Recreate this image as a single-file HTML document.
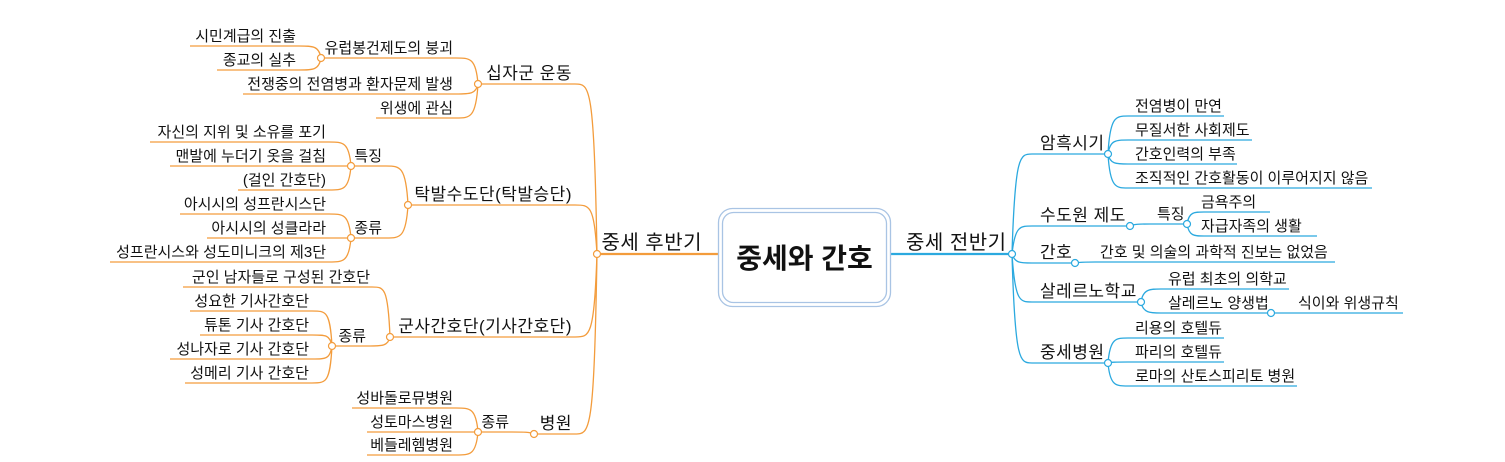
<!DOCTYPE html>
<html><head><meta charset="utf-8"><style>
html,body{margin:0;padding:0;background:#fff;}
svg{display:block;font-family:"Liberation Sans","Noto Sans CJK KR","NanumGothic",sans-serif;}
.l path{fill:none;stroke:#F39C3C;stroke-width:1.3;}
.r path{fill:none;stroke:#2BA9DF;stroke-width:1.3;}
.l circle{fill:#fff;stroke:#F39C3C;stroke-width:1.2;}
.r circle{fill:#fff;stroke:#2BA9DF;stroke-width:1.2;}
text{fill:#111;}
.lf{font-size:15px;}
.br{font-size:17px;letter-spacing:0.5px;}
.mn{font-size:20px;letter-spacing:0.5px;}
</style></head><body>
<svg width="1505" height="462" viewBox="0 0 1505 462" xmlns="http://www.w3.org/2000/svg">
<g class="l">
<path d="M720 254 H597" style="stroke-width:2.2"/>
<path d="M597 254 C594 84 590 84 575 84 H478"/>
<path d="M597 254 C594 205 590 205 575 205 H408"/>
<path d="M597 254 C594 337 590 337 575 337 H390"/>
<path d="M597 254 C594 434 590 434 575 434 H534"/>
<path d="M478 84 C476 58 470 58 456 58 H321"/>
<path d="M478 84 C476 94 470 94 456 94 H243"/>
<path d="M478 84 C476 118 470 118 456 118 H376"/>
<path d="M321 58 C319 46 313 46 299 46 H190"/>
<path d="M321 58 C319 70 313 70 299 70 H217"/>
<path d="M408 205 C406 166 400 166 386 166 H351"/>
<path d="M408 205 C406 238 400 238 386 238 H351"/>
<path d="M351 166 C349 142 343 142 329 142 H150"/>
<path d="M351 166 H170"/>
<path d="M351 166 C349 190 343 190 329 190 H238"/>
<path d="M351 238 C349 214 343 214 329 214 H180"/>
<path d="M351 238 H207"/>
<path d="M351 238 C349 262 343 262 329 262 H110"/>
<path d="M390 337 C388 287 384 287 372 287 H183"/>
<path d="M390 337 C388 346 382 346 370 346 H332"/>
<path d="M332 346 C330 311 326 311 312 311 H190"/>
<path d="M332 346 C330 335 326 335 312 335 H200"/>
<path d="M332 346 C330 359 326 359 312 359 H170"/>
<path d="M332 346 C330 383 326 383 312 383 H185"/>
<path d="M534 434 C530 432 524 432 512 432 H478"/>
<path d="M478 432 C476 408 470 408 456 408 H352"/>
<path d="M478 432 H367"/>
<path d="M478 432 C476 455 470 455 456 455 H367"/>
<circle cx="597" cy="254" r="3.5"/>
<circle cx="478" cy="84" r="3.5"/>
<circle cx="321" cy="58" r="3.5"/>
<circle cx="408" cy="205" r="3.5"/>
<circle cx="351" cy="166" r="3.5"/>
<circle cx="351" cy="238" r="3.5"/>
<circle cx="390" cy="337" r="3.5"/>
<circle cx="332" cy="346" r="3.5"/>
<circle cx="534" cy="434" r="3.5"/>
<circle cx="478" cy="432" r="3.5"/>
</g>
<g text-anchor="end">
<text class="mn" x="702" y="249">중세 후반기</text>
<text class="br" x="572" y="79">십자군 운동</text>
<text class="br" x="572" y="200">탁발수도단(탁발승단)</text>
<text class="br" x="572" y="332">군사간호단(기사간호단)</text>
<text class="br" x="572" y="429">병원</text>
<text class="lf" x="453" y="53">유럽봉건제도의 붕괴</text>
<text class="lf" x="453" y="89">전쟁중의 전염병과 환자문제 발생</text>
<text class="lf" x="453" y="113">위생에 관심</text>
<text class="lf" x="296" y="41">시민계급의 진출</text>
<text class="lf" x="296" y="65">종교의 실추</text>
<text class="lf" x="382" y="161">특징</text>
<text class="lf" x="382" y="233">종류</text>
<text class="lf" x="326" y="137">자신의 지위 및 소유를 포기</text>
<text class="lf" x="326" y="161">맨발에 누더기 옷을 걸침</text>
<text class="lf" x="326" y="185">(걸인 간호단)</text>
<text class="lf" x="326" y="209">아시시의 성프란시스단</text>
<text class="lf" x="326" y="233">아시시의 성클라라</text>
<text class="lf" x="326" y="257">성프란시스와 성도미니크의 제3단</text>
<text class="lf" x="370" y="282">군인 남자들로 구성된 간호단</text>
<text class="lf" x="366" y="341">종류</text>
<text class="lf" x="309" y="306">성요한 기사간호단</text>
<text class="lf" x="309" y="330">튜톤 기사 간호단</text>
<text class="lf" x="309" y="354">성나자로 기사 간호단</text>
<text class="lf" x="309" y="378">성메리 기사 간호단</text>
<text class="lf" x="509" y="427">종류</text>
<text class="lf" x="453" y="403">성바돌로뮤병원</text>
<text class="lf" x="453" y="427">성토마스병원</text>
<text class="lf" x="453" y="450">베들레헴병원</text>
</g>
<g class="r">
<path d="M888 254 H1012" style="stroke-width:2.2"/>
<path d="M1012 254 C1015 154 1020 154 1032 154 H1108"/>
<path d="M1012 254 C1015 226 1020 226 1032 226 H1130"/>
<path d="M1012 254 C1015 263 1020 263 1032 263 H1075"/>
<path d="M1012 254 C1015 302 1020 302 1032 302 H1141"/>
<path d="M1012 254 C1015 363 1020 363 1032 363 H1108"/>
<path d="M1108 154 C1110 116 1116 116 1128 116 H1224"/>
<path d="M1108 154 C1110 140 1116 140 1128 140 H1252"/>
<path d="M1108 154 C1110 164 1116 164 1128 164 H1237"/>
<path d="M1108 154 C1110 188 1116 188 1128 188 H1372"/>
<path d="M1130 226 C1134 224 1140 224 1150 224 H1187"/>
<path d="M1187 224 C1189 212 1194 212 1204 212 H1270"/>
<path d="M1187 224 C1189 236 1194 236 1204 236 H1317"/>
<path d="M1075 263 C1080 262 1086 262 1095 262 H1335"/>
<path d="M1141 302 C1143 289 1150 289 1161 289 H1289"/>
<path d="M1141 302 C1143 313 1150 313 1161 313 H1271"/>
<path d="M1271 313 H1403"/>
<path d="M1108 363 C1110 338 1116 338 1128 338 H1224"/>
<path d="M1108 363 C1110 362 1116 362 1128 362 H1224"/>
<path d="M1108 363 C1110 386 1116 386 1128 386 H1297"/>
<circle cx="1012" cy="254" r="3.5"/>
<circle cx="1108" cy="154" r="3.5"/>
<circle cx="1130" cy="226" r="3.5"/>
<circle cx="1187" cy="224" r="3.5"/>
<circle cx="1075" cy="263" r="3.5"/>
<circle cx="1141" cy="302" r="3.5"/>
<circle cx="1271" cy="313" r="3.5"/>
<circle cx="1108" cy="363" r="3.5"/>
</g>
<g>
<text class="mn" x="906" y="249">중세 전반기</text>
<text class="br" x="1040" y="149">암흑시기</text>
<text class="br" x="1040" y="221">수도원 제도</text>
<text class="br" x="1040" y="258">간호</text>
<text class="br" x="1040" y="297">살레르노학교</text>
<text class="br" x="1040" y="358">중세병원</text>
<text class="lf" x="1135" y="111">전염병이 만연</text>
<text class="lf" x="1135" y="135">무질서한 사회제도</text>
<text class="lf" x="1135" y="159">간호인력의 부족</text>
<text class="lf" x="1135" y="183">조직적인 간호활동이 이루어지지 않음</text>
<text class="lf" x="1157" y="219">특징</text>
<text class="lf" x="1201" y="207">금욕주의</text>
<text class="lf" x="1201" y="231">자급자족의 생활</text>
<text class="lf" x="1100" y="257">간호 및 의술의 과학적 진보는 없었음</text>
<text class="lf" x="1168" y="284">유럽 최초의 의학교</text>
<text class="lf" x="1168" y="308">살레르노 양생법</text>
<text class="lf" x="1298" y="308">식이와 위생규칙</text>
<text class="lf" x="1135" y="333">리용의 호텔듀</text>
<text class="lf" x="1135" y="357">파리의 호텔듀</text>
<text class="lf" x="1135" y="381">로마의 산토스피리토 병원</text>
</g>
<rect x="718.5" y="208.5" width="172" height="98" rx="14" fill="#fff" stroke="#a9c4e4" stroke-width="1.3"/>
<rect x="722.5" y="212.5" width="164" height="90" rx="11" fill="#fff" stroke="#a9c4e4" stroke-width="1.3"/>
<text x="804.5" y="268" text-anchor="middle" style="font-size:28px;font-weight:bold;">중세와 간호</text>
</svg>
</body></html>
